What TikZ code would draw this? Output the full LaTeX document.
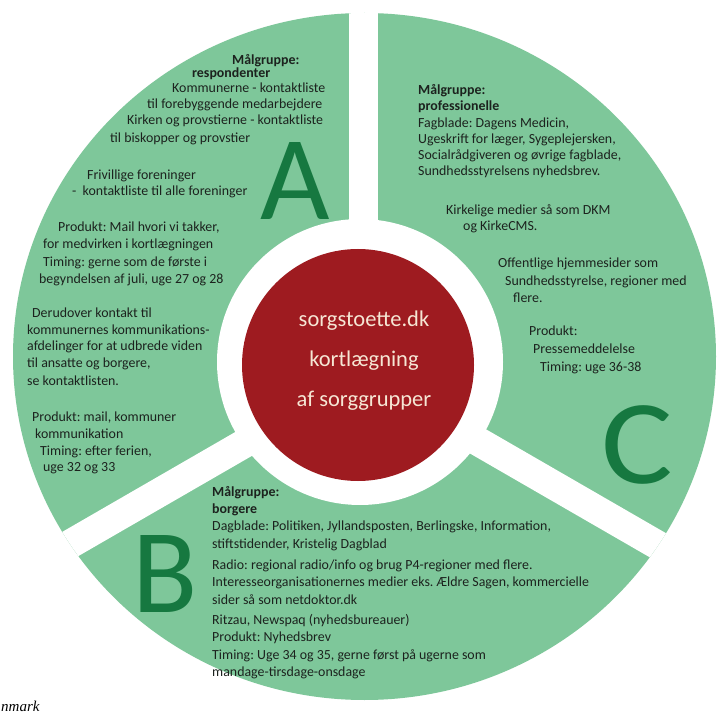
\documentclass[tikz,border=0pt]{standalone}
\usepackage{fontspec}
\setmainfont{Carlito}
\newfontfamily\notefont{Liberation Serif}
\frenchspacing
\definecolor{sectorgreen}{RGB}{126,199,154}
\definecolor{lettergreen}{RGB}{22,120,64}
\definecolor{hubred}{RGB}{158,27,32}
\definecolor{hubcream}{RGB}{246,230,212}
\definecolor{bodytext}{RGB}{28,34,30}
\tikzset{
  txtline/.style={anchor=west, inner sep=0pt, text=bodytext,
    font=\fontsize{13.9}{16}\selectfont, text height=9pt, text depth=3pt},
  bigletter/.style={inner sep=0pt, text=lettergreen, font=\fontsize{120}{120}\selectfont},
  hubtext/.style={align=center, text=hubcream, font=\fontsize{22.5}{40}\selectfont}
}
\begin{document}
\begin{tikzpicture}[x=1pt, y=-1pt]
    \useasboundingbox (0,0) rectangle (721,714);
    \fill[white] (0,0) rectangle (721,714);

    % Ring of sectors
    \coordinate (mid) at (364.5,356.5);
    \coordinate (hub) at (363,375);
    \fill[sectorgreen] (mid) ellipse [x radius=351.5, y radius=343.5];
    \fill[white] (360,362) circle [radius=143];
    \begin{scope}
        \clip (mid) ellipse [x radius=351.5, y radius=343.5];
        \foreach \ang in {-90,150,30}
            \draw[white, line width=29pt] (hub) -- ++(\ang:420);
    \end{scope}

    % Centre
    \fill[hubred] (358,365) circle [radius=116];
    \node[hubtext] (title) at (364,361) {sorgstoette.dk\\kortlægning\\af sorggrupper};

    % Letters
    \node[bigletter] (letA) at (295,181) {A};
    \node[bigletter] (letB) at (165,574) {B};
    \node[bigletter, xscale=1.12] (letC) at (637,445) {C};

    % Sector A
    \foreach \px/\py/\txt [count=\i] in {
        232/62/{\textbf{Målgruppe:}},
        192/75/{\textbf{respondenter}},
        172/90/{Kommunerne - kontaktliste},
        147/106/{til forebyggende medarbejdere},
        127/122/{Kirken og provstierne - kontaktliste},
        110/140/{til biskopper og provstier},
        87/177/{Frivillige foreninger},
        72/193/{-\ \ kontaktliste til alle foreninger},
        58/229/{Produkt: Mail hvori vi takker,},
        43/246/{for medvirken i kortlægningen},
        43/264/{Timing: gerne som de første i},
        39/281/{begyndelsen af juli, uge 27 og 28},
        32/315/{Derudover kontakt til},
        27/332/{kommunernes kommunikations-},
        27/348/{afdelinger for at udbrede viden},
        27/365/{til ansatte og borgere,},
        27/382/{se kontaktlisten.},
        32/418/{Produkt: mail, kommuner},
        35/435/{kommunikation},
        40/452/{Timing: efter ferien,},
        43/468/{uge 32 og 33}}
        \node[txtline] (a\i) at (\px,\py) {\txt};

    % Sector C
    \foreach \px/\py/\txt [count=\i] in {
        418/92/{\textbf{Målgruppe:}},
        418/108/{\textbf{professionelle}},
        418/125/{Fagblade: Dagens Medicin,},
        418/141/{Ugeskrift for læger, Sygeplejersken,},
        418/157/{Socialrådgiveren og øvrige fagblade,},
        418/173/{Sundhedsstyrelsens nyhedsbrev.},
        446/212/{Kirkelige medier så som DKM},
        463/228/{og KirkeCMS.},
        498/265/{Offentlige hjemmesider som},
        505/283/{Sundhedsstyrelse, regioner med},
        513/300/{flere.},
        529/333/{Produkt:},
        533/350/{Pressemeddelelse},
        540/368/{Timing: uge 36-38}}
        \node[txtline] (c\i) at (\px,\py) {\txt};

    % Sector B
    \foreach \py/\txt [count=\i] in {
        493/{\textbf{Målgruppe:}},
        510/{\textbf{borgere}},
        527/{Dagblade: Politiken, Jyllandsposten, Berlingske, Information,},
        545/{stiftstidender, Kristelig Dagblad},
        566/{Radio: regional radio/info og brug P4-regioner med flere.},
        583/{Interesseorganisationernes medier eks. Ældre Sagen, kommercielle},
        601/{sider så som netdoktor.dk},
        621/{Ritzau, Newspaq (nyhedsbureauer)},
        638/{Produkt: Nyhedsbrev},
        656/{Timing: Uge 34 og 35, gerne først på ugerne som},
        673/{mandage-tirsdage-onsdage}}
        \node[txtline] (b\i) at (212,\py) {\txt};

    % Caption remnant
    \node[anchor=base west, inner sep=0pt, font=\notefont\itshape\fontsize{15}{18}\selectfont]
        (caption) at (1,711) {nmark};
\end{tikzpicture}
\end{document}
